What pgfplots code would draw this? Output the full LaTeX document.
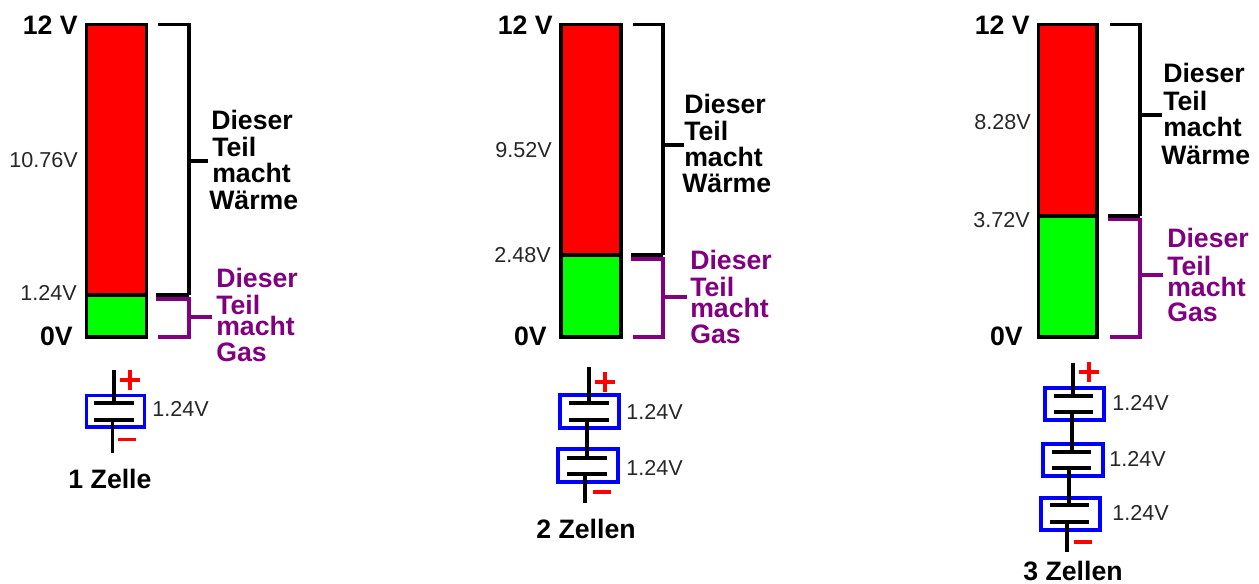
\documentclass[border=0pt]{standalone}
\usepackage{pgfplots}
\pgfplotsset{compat=1.18}
\usepackage{fontspec}
\setmainfont{Liberation Sans}
\definecolor{vio}{HTML}{800080}
\definecolor{lim}{HTML}{00FF00}
\definecolor{blu}{HTML}{0000FF}
\tikzset{
  W/.style={black,line width=2.4pt,line cap=butt,line join=miter},
  P/.style={vio,line width=2.4pt,line cap=butt,line join=miter},
  B/.style={font=\fontsize{20pt}{21pt}\selectfont\bfseries,anchor=base west,yshift=-7pt,inner sep=0pt},
  BR/.style={B,anchor=base east},
  BC/.style={B,anchor=base},
  L/.style={font=\fontsize{16.2pt}{17pt}\selectfont,text=black!85,anchor=base east,yshift=-5.6pt,inner sep=0pt},
  LL/.style={L,anchor=base west},
}
% column: x1 x2 ydiv
\newcommand\Saeule[3]{%
  \addplot[fill=red,draw=black,line width=2.4pt] coordinates {(#1,24.5)(#2,24.5)(#2,#3)(#1,#3)} --cycle;
  \addplot[fill=lim,draw=black,line width=2.4pt] coordinates {(#1,#3)(#2,#3)(#2,337)(#1,337)} --cycle;
}
% brackets: xleft xv ydiv ytickblack xtickblackend ypurple ytickpurple xtickpurpleend
\newcommand\Klammer[8]{%
  \pgfmathsetmacro\xl{#1+2}
  \addplot[W] coordinates {(\xl,24.5)(#2,24.5)(#2,#3)};
  \addplot[W,line width=3pt] coordinates {(#1,#3)(#2,#3)};
  \addplot[W] coordinates {(#2,#4)(#5,#4)};
  \addplot[P] coordinates {(#1,#6)(#2,#6)(#2,337)(\xl,337)};
  \addplot[P] coordinates {(#2,#7)(#8,#7)};
}
% cell: x1 x2 y1 y2 xplate1 xplate2 yplate1 yplate2
\newcommand\Zelle[8]{%
  \addplot[blu,line width=2.4pt,line join=miter] coordinates {(#1,#3)(#2,#3)(#2,#4)(#1,#4)} --cycle;
  \addplot[W] coordinates {(#5,#7)(#6,#7)};
  \addplot[W] coordinates {(#5,#8)(#6,#8)};
}
\newcommand\Draht[3]{\addplot[W] coordinates {(#1,#2)(#1,#3)};}
\newcommand\Plus[2]{%
  \pgfmathsetmacro\pa{#1-10}\pgfmathsetmacro\pb{#1+10}\pgfmathsetmacro\pc{#2-10}\pgfmathsetmacro\pd{#2+10}
  \addplot[red,line width=2.6pt] coordinates {(\pa,#2)(\pb,#2)};
  \addplot[red,line width=2.6pt] coordinates {(#1,\pc)(#1,\pd)};
}
\newcommand\Minus[3]{\addplot[red,line width=2.6pt] coordinates {(#1,#3)(#2,#3)};}
\newcommand\Schwarz[8]{%
  \node[B] at (axis cs:#1,#2) {Dieser};
  \node[B] at (axis cs:#3,#4) {Teil};
  \node[B] at (axis cs:#5,#6) {macht};
  \node[B] at (axis cs:#7,#8) {Wärme};
}
\newcommand\Violett[5]{%
  \node[B,text=vio] at (axis cs:#1,#2) {Dieser};
  \node[B,text=vio] at (axis cs:#1,#3) {Teil};
  \node[B,text=vio] at (axis cs:#1,#4) {macht};
  \node[B,text=vio] at (axis cs:#1,#5) {Gas};
}
\begin{document}
\begin{tikzpicture}
\useasboundingbox (0,0) rectangle (944.25pt,437.25pt);
\begin{axis}[
  at={(0,0)}, anchor=south west,
  scale only axis, width=944.25pt, height=437.25pt,
  xmin=0, xmax=1259, ymin=0, ymax=583, y dir=reverse,
  axis lines=none, clip=false,
]
% Panel 1
\Saeule{86.5}{146.5}{295}
\Klammer{156}{189}{295}{161}{208}{299}{317}{212}
\Zelle{86.5}{144.5}{395.5}{427}{94}{134}{403}{420}
\Draht{114}{370}{403}
\Draht{112.5}{420}{453}
\Plus{130}{380}
\Minus{118}{136}{439.5}
\Schwarz{211}{120}{212}{147}{212}{173}{209}{200}
\Violett{216}{278}{305}{326}{352}
\node[BR] at (axis cs:78,25) {12 V};
\node[L] at (axis cs:78,160) {10.76V};
\node[L] at (axis cs:77,293) {1.24V};
\node[BR] at (axis cs:73,336) {0V};
\node[LL] at (axis cs:152,409) {1.24V};
\node[BC] at (axis cs:110,479) {1 Zelle};
% Panel 2
\Saeule{561}{621}{255}
\Klammer{631}{663}{255}{145}{684}{259}{297}{687}
\Zelle{560}{619}{395}{428}{569}{609}{403}{420}
\Zelle{558}{618}{449}{482}{567}{607}{458}{474}
\Draht{589}{367}{403}
\Draht{587}{420}{458}
\Draht{585}{474}{503}
\Plus{605}{382}
\Minus{593}{611}{492}
\Schwarz{684}{104}{684}{131}{684}{157}{682}{183}
\Violett{690}{260}{287}{308}{334}
\node[BR] at (axis cs:553,25) {12 V};
\node[L] at (axis cs:552,150) {9.52V};
\node[L] at (axis cs:551,255) {2.48V};
\node[BR] at (axis cs:547,336) {0V};
\node[LL] at (axis cs:626,412) {1.24V};
\node[LL] at (axis cs:626,468) {1.24V};
\node[BC] at (axis cs:586,529) {2 Zellen};
% Panel 3
\Saeule{1038.5}{1097}{216}
\Klammer{1108}{1140}{216}{115}{1162}{219.5}{275}{1163}
\Zelle{1045}{1104}{388}{420}{1054}{1093}{396}{412}
\Zelle{1043}{1103}{444}{476}{1052}{1091}{452}{468}
\Zelle{1041}{1100}{498}{530}{1050}{1089}{505}{522}
\Draht{1073}{363}{396}
\Draht{1072}{412}{452}
\Draht{1069}{468}{505}
\Draht{1067}{522}{552}
\Plus{1089}{372}
\Minus{1074}{1092}{542}
\Schwarz{1163}{73}{1163}{101}{1163}{127}{1161}{155}
\Violett{1167}{238}{266}{287}{312}
\node[BR] at (axis cs:1030,25) {12 V};
\node[L] at (axis cs:1031,122) {8.28V};
\node[L] at (axis cs:1030,220) {3.72V};
\node[BR] at (axis cs:1023,336) {0V};
\node[LL] at (axis cs:1112,403) {1.24V};
\node[LL] at (axis cs:1109,459) {1.24V};
\node[LL] at (axis cs:1112,513) {1.24V};
\node[BC] at (axis cs:1073,571) {3 Zellen};
\end{axis}
\end{tikzpicture}
\end{document}
